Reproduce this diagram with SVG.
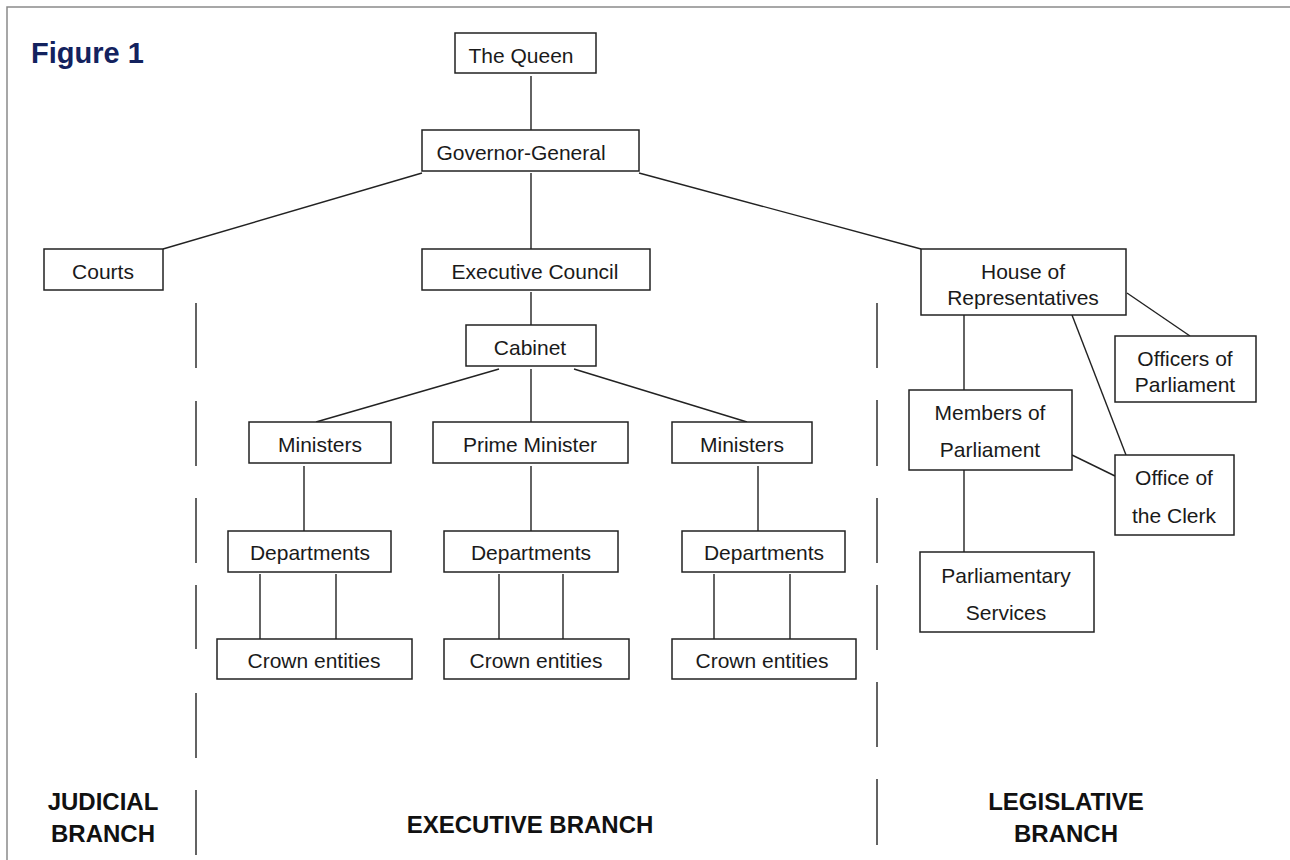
<svg xmlns="http://www.w3.org/2000/svg" width="1290" height="860" viewBox="0 0 1290 860">
<style>
.box{fill:#fff;stroke:#222;stroke-width:1.5}
.t{font-family:"Liberation Sans",Arial,sans-serif;font-size:21px;fill:#1a1a1a;text-anchor:middle}
.lbl{font-family:"Liberation Sans",Arial,sans-serif;font-size:24px;font-weight:bold;fill:#111;text-anchor:middle}
.ln{stroke:#222;stroke-width:1.4;fill:none}
.dash{stroke:#222;stroke-width:1.4;fill:none}
</style>
<rect x="0" y="0" width="1290" height="860" fill="#fff"/>
<path d="M7,860 V7 H1290" fill="none" stroke="#8a8a8a" stroke-width="1.5"/>
<text x="31" y="63" font-family="'Liberation Sans',Arial,sans-serif" font-size="29" font-weight="bold" fill="#13225e">Figure 1</text>

<g id="connectors">
<line class="ln" x1="531" y1="76" x2="531" y2="130"/>
<line class="ln" x1="531" y1="173" x2="531" y2="249"/>
<line class="ln" x1="422" y1="173" x2="163" y2="249"/>
<line class="ln" x1="639" y1="173" x2="921" y2="249"/>
<line class="ln" x1="531" y1="292" x2="531" y2="325"/>
<line class="ln" x1="499" y1="369" x2="316" y2="422"/>
<line class="ln" x1="531" y1="369" x2="531" y2="422"/>
<line class="ln" x1="574" y1="369" x2="747" y2="422"/>
<line class="ln" x1="304" y1="466" x2="304" y2="531"/>
<line class="ln" x1="531" y1="466" x2="531" y2="531"/>
<line class="ln" x1="758" y1="466" x2="758" y2="531"/>
<line class="ln" x1="260" y1="574" x2="260" y2="639"/>
<line class="ln" x1="336" y1="574" x2="336" y2="639"/>
<line class="ln" x1="499" y1="574" x2="499" y2="639"/>
<line class="ln" x1="563" y1="574" x2="563" y2="639"/>
<line class="ln" x1="714" y1="574" x2="714" y2="639"/>
<line class="ln" x1="790" y1="574" x2="790" y2="639"/>
<line class="ln" x1="964" y1="315" x2="964" y2="390"/>
<line class="ln" x1="964" y1="466" x2="964" y2="552"/>
<line class="ln" x1="1127" y1="293" x2="1190" y2="336"/>
<line class="ln" x1="1072" y1="315" x2="1126" y2="455"/>
<line class="ln" x1="1072" y1="455" x2="1115" y2="476"/>
</g>

<g id="dividers">
<path class="dash" d="M196,303V368M196,401V466M196,498V563M196,585V649M196,693V758M196,790V855"/>
<path class="dash" d="M877,303V368M877,400V466M877,498V563M877,585V650M877,682V747M877,779V845"/>
</g>

<g id="queen"><rect class="box" x="455" y="33" width="141" height="40"/><text class="t" x="521" y="63">The Queen</text></g>
<g id="gg"><rect class="box" x="422" y="130" width="217" height="41"/><text class="t" x="521" y="160">Governor-General</text></g>
<g id="courts"><rect class="box" x="44" y="249" width="119" height="41"/><text class="t" x="103" y="279">Courts</text></g>
<g id="execcouncil"><rect class="box" x="422" y="249" width="228" height="41"/><text class="t" x="535" y="279">Executive Council</text></g>
<g id="house"><rect class="box" x="921" y="249" width="205" height="66"/><text class="t" x="1023" y="279">House of</text><text class="t" x="1023" y="305">Representatives</text></g>
<g id="cabinet"><rect class="box" x="466" y="325" width="130" height="41"/><text class="t" x="530" y="355">Cabinet</text></g>
<g id="ministersL"><rect class="box" x="249" y="422" width="142" height="41"/><text class="t" x="320" y="452">Ministers</text></g>
<g id="pm"><rect class="box" x="433" y="422" width="195" height="41"/><text class="t" x="530" y="452">Prime Minister</text></g>
<g id="ministersR"><rect class="box" x="672" y="422" width="140" height="41"/><text class="t" x="742" y="452">Ministers</text></g>
<g id="deptL"><rect class="box" x="228" y="531" width="163" height="41"/><text class="t" x="310" y="560">Departments</text></g>
<g id="deptM"><rect class="box" x="444" y="531" width="174" height="41"/><text class="t" x="531" y="560">Departments</text></g>
<g id="deptR"><rect class="box" x="682" y="531" width="163" height="41"/><text class="t" x="764" y="560">Departments</text></g>
<g id="crownL"><rect class="box" x="217" y="639" width="195" height="40"/><text class="t" x="314" y="668">Crown entities</text></g>
<g id="crownM"><rect class="box" x="444" y="639" width="185" height="40"/><text class="t" x="536" y="668">Crown entities</text></g>
<g id="crownR"><rect class="box" x="672" y="639" width="184" height="40"/><text class="t" x="762" y="668">Crown entities</text></g>
<g id="officers"><rect class="box" x="1115" y="336" width="141" height="66"/><text class="t" x="1185" y="366">Officers of</text><text class="t" x="1185" y="392">Parliament</text></g>
<g id="members"><rect class="box" x="909" y="390" width="163" height="80"/><text class="t" x="990" y="420">Members of</text><text class="t" x="990" y="457">Parliament</text></g>
<g id="clerk"><rect class="box" x="1115" y="455" width="119" height="80"/><text class="t" x="1174" y="485">Office of</text><text class="t" x="1174" y="523">the Clerk</text></g>
<g id="parlservices"><rect class="box" x="920" y="552" width="174" height="80"/><text class="t" x="1006" y="583">Parliamentary</text><text class="t" x="1006" y="620">Services</text></g>

<g id="labels">
<text class="lbl" x="103" y="810">JUDICIAL</text>
<text class="lbl" x="103" y="842">BRANCH</text>
<text class="lbl" x="530" y="833">EXECUTIVE BRANCH</text>
<text class="lbl" x="1066" y="810">LEGISLATIVE</text>
<text class="lbl" x="1066" y="842">BRANCH</text>
</g>
</svg>
